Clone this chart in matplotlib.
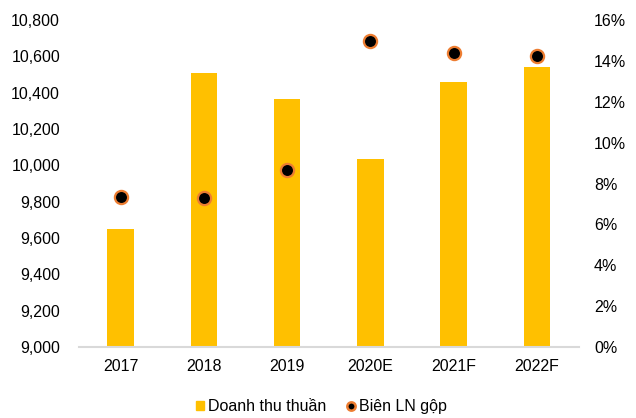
import matplotlib.pyplot as plt
from matplotlib.ticker import FuncFormatter
from matplotlib.lines import Line2D
from matplotlib.patches import Patch

plt.rcParams['font.family'] = ['Liberation Sans', 'DejaVu Sans']

years = ['2017', '2018', '2019', '2020E', '2021F', '2022F']
doanh_thu = [9648, 10510, 10363, 10033, 10459, 10541]
bien_ln = [7.34, 7.3, 8.66, 14.97, 14.37, 14.25]

fig = plt.figure(figsize=(6.36, 4.18), dpi=100)
ax = fig.add_axes([0.124, 0.170, 0.786, 0.782])
x = range(len(years))
ax.bar(x, [v - 9000 for v in doanh_thu], bottom=9000, width=0.32, color='#FFC000', zorder=2)
ax.set_ylim(9000, 10800)
ax.set_xlim(-0.5, 5.5)
ax.set_yticks(range(9000, 10801, 200))
ax.yaxis.set_major_formatter(FuncFormatter(lambda v, p: f'{int(v):,}'))
ax.set_xticks(list(x))
ax.set_xticklabels(years)
for s in ['top', 'right', 'left']:
    ax.spines[s].set_visible(False)
ax.spines['bottom'].set_color('#D9D9D9')
ax.spines['bottom'].set_linewidth(1.5)
ax.tick_params(axis='both', length=0, labelsize=11.5, colors='#000000')
ax.tick_params(axis='y', pad=13.5)
ax.tick_params(axis='x', pad=9)

ax2 = ax.twinx()
ax2.plot(list(x), bien_ln, linestyle='none', marker='o', markersize=9.5,
         markerfacecolor='black', markeredgecolor='#ED7D31', markeredgewidth=1.6, zorder=3)
ax2.set_ylim(0, 16)
ax2.set_yticks(range(0, 17, 2))
ax2.yaxis.set_major_formatter(FuncFormatter(lambda v, p: f'{int(v)}%'))
for s in ['top', 'right', 'left', 'bottom']:
    ax2.spines[s].set_visible(False)
ax2.tick_params(axis='y', length=0, labelsize=11.5, pad=11)

handles = [Patch(color='#FFC000'),
           Line2D([], [], linestyle='none', marker='o', markersize=6,
                  markerfacecolor='black', markeredgecolor='#ED7D31', markeredgewidth=1.8)]
fig.legend(handles, ['Doanh thu thuần', 'Biên LN gộp'], loc='center', bbox_to_anchor=(0.505, 0.027),
           ncol=2, frameon=False, fontsize=11.5, handlelength=0.5, handleheight=0.5,
           handletextpad=0.25, columnspacing=1.3)

fig.savefig('out.png', dpi=100)
